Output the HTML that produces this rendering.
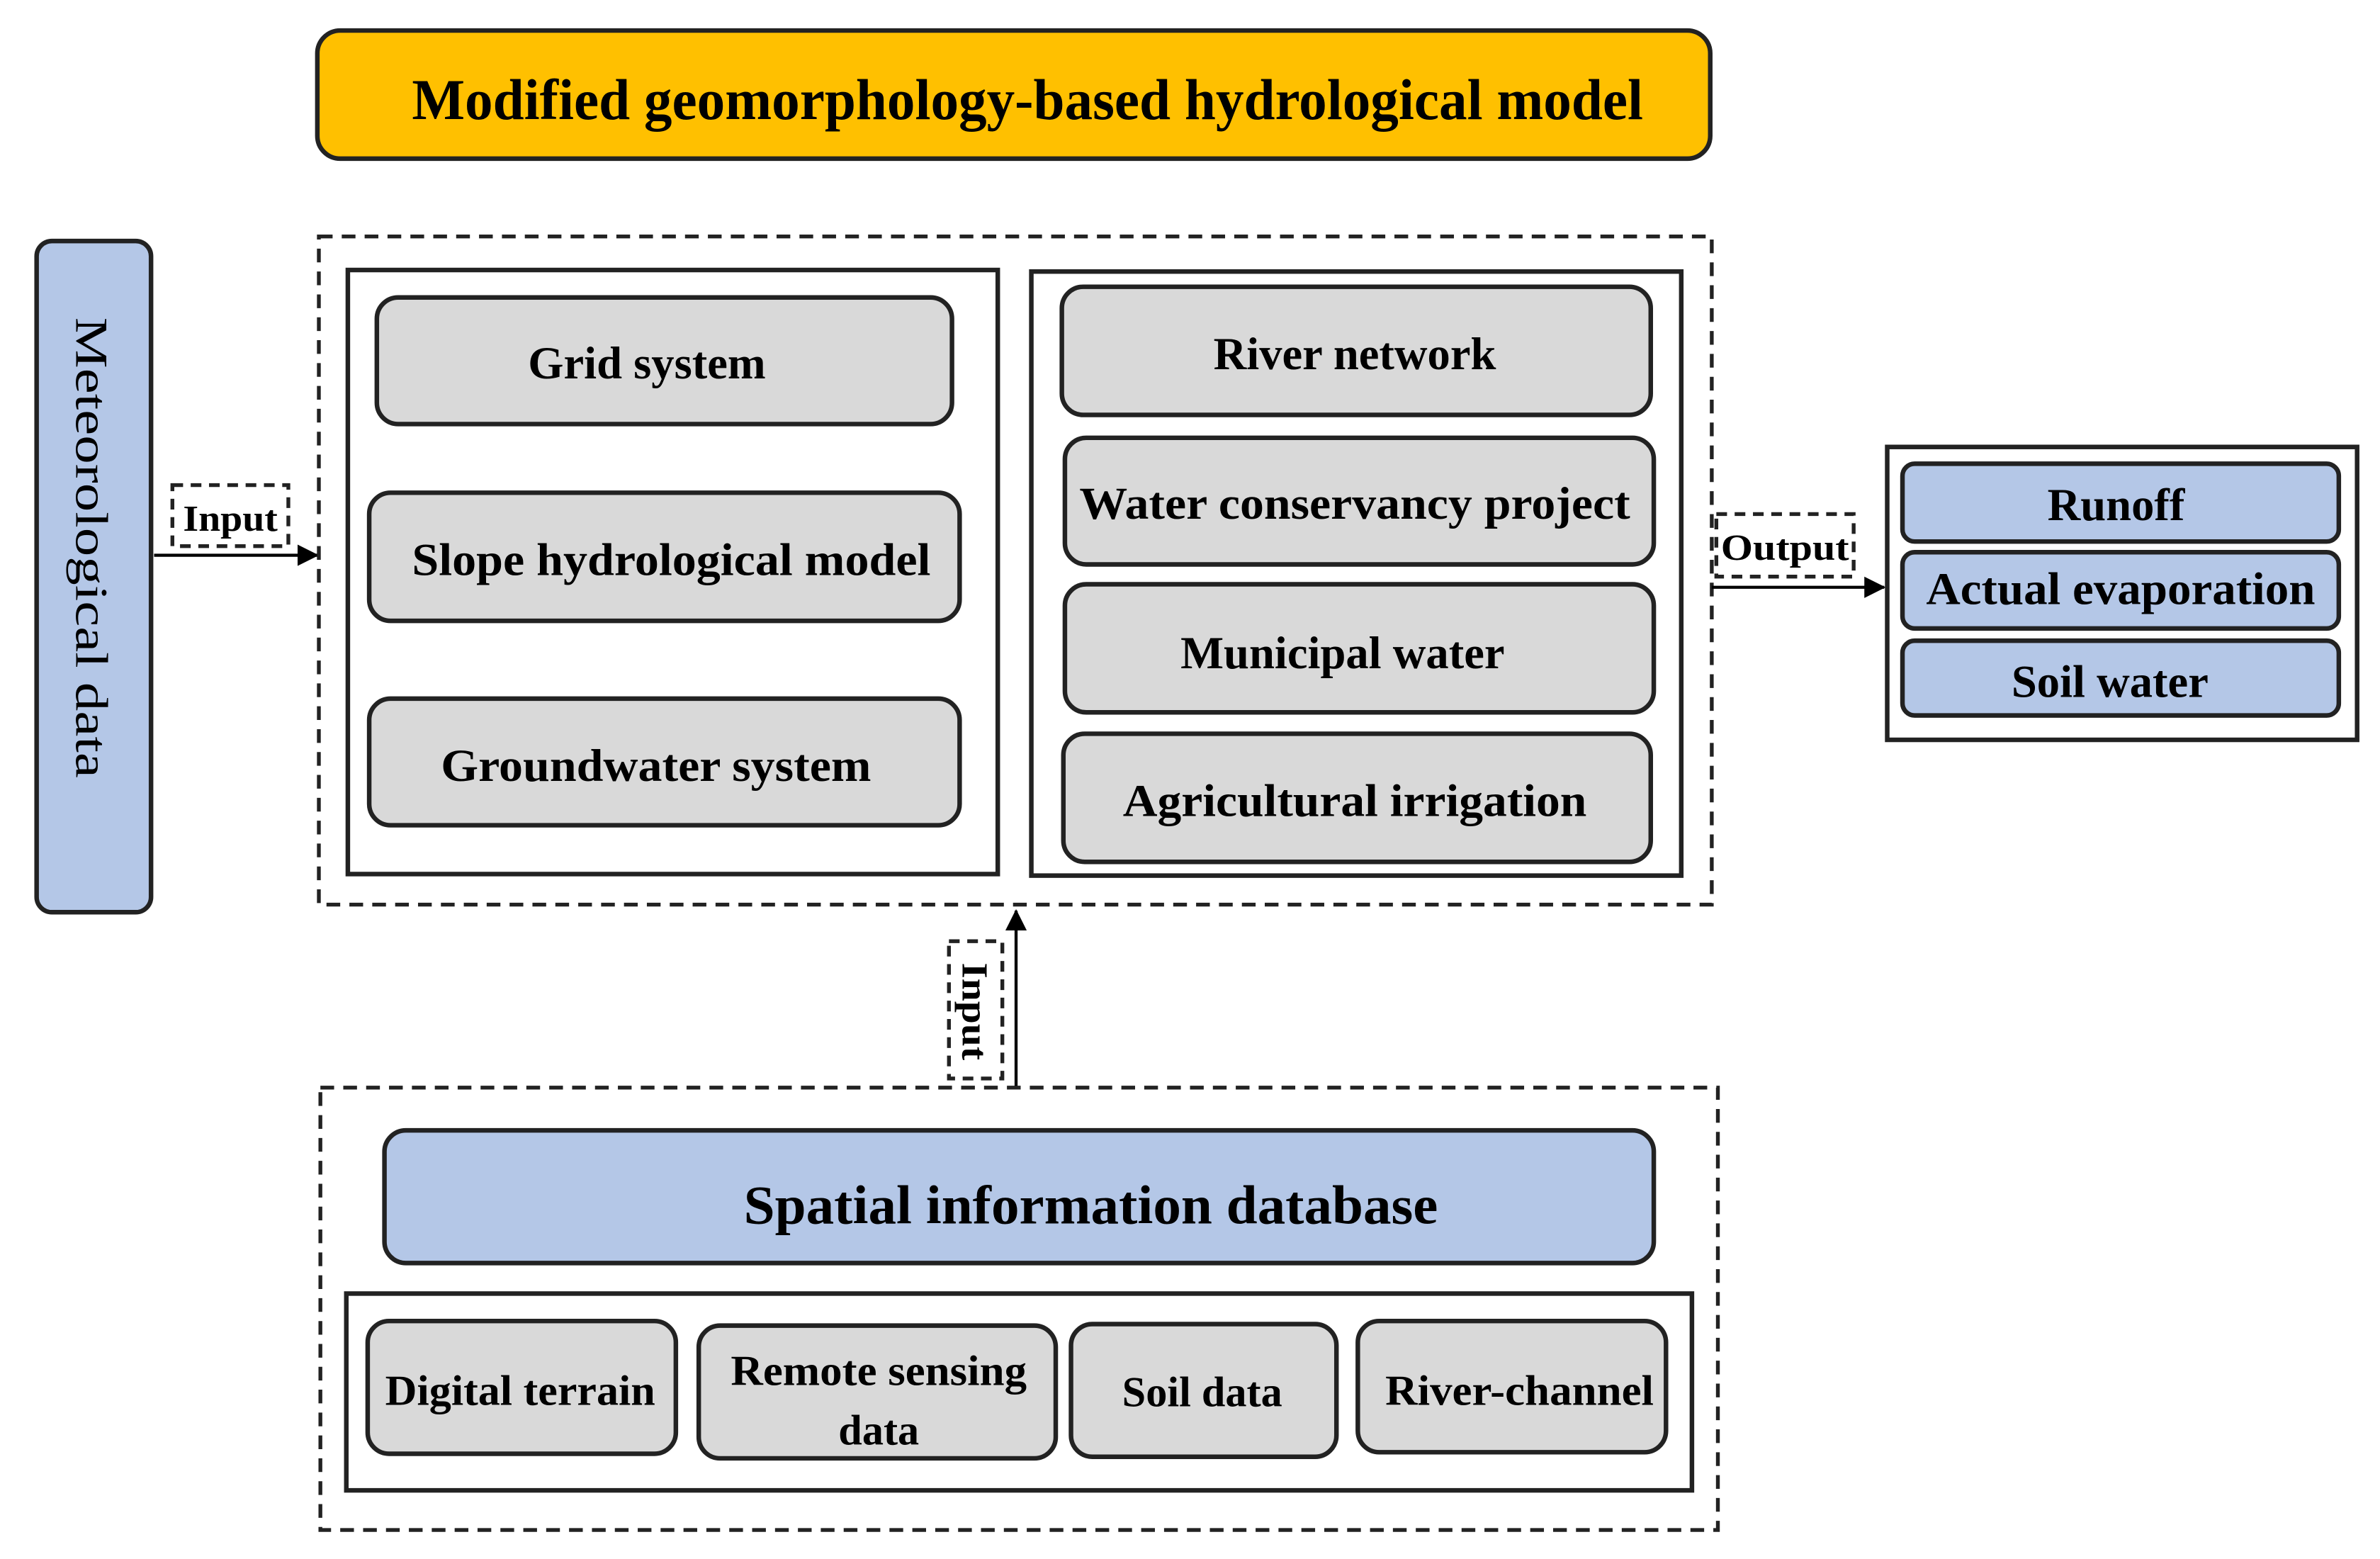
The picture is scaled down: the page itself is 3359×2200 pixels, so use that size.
<!DOCTYPE html>
<html><head><meta charset="utf-8"><style>html,body{margin:0;padding:0;background:#fff}svg{display:block}</style></head>
<body>
<svg width="3359" height="2200" viewBox="0 0 1560 1022" preserveAspectRatio="none" xmlns="http://www.w3.org/2000/svg">
<defs>
<marker id="ah" markerWidth="14" markerHeight="14" refX="13" refY="7" orient="auto" markerUnits="userSpaceOnUse">
<path d="M0,0 L14,7 L0,14 z" fill="#000"/></marker>
</defs>
<g font-family="'Liberation Serif', serif" font-weight="bold" fill="#000">
<rect x="208" y="20" width="913" height="84" rx="15" fill="#FFC000" stroke="#222" stroke-width="3"/>
<text x="270" y="78" font-size="38" textLength="807" lengthAdjust="spacingAndGlyphs">Modified geomorphology-based hydrological model</text>

<rect x="24" y="158" width="75" height="440" rx="10" fill="#B4C7E7" stroke="#222" stroke-width="3"/>
<text transform="translate(50,208) rotate(90)" font-size="30" font-weight="normal" textLength="302" lengthAdjust="spacingAndGlyphs">Meteorological data</text>

<rect x="113" y="318" width="76" height="40" fill="none" stroke="#222" stroke-width="2.5" stroke-dasharray="7,5"/>
<text x="120" y="348" font-size="24" textLength="62" lengthAdjust="spacingAndGlyphs">Input</text>
<line x1="101" y1="364" x2="208" y2="364" stroke="#000" stroke-width="2" marker-end="url(#ah)"/>

<rect x="209" y="155" width="913" height="438" fill="none" stroke="#222" stroke-width="2.5" stroke-dasharray="9,6"/>
<rect x="228" y="177" width="426" height="396" fill="none" stroke="#222" stroke-width="3"/>
<rect x="676" y="178" width="426" height="396" fill="none" stroke="#222" stroke-width="3"/>

<g fill="#D9D9D9" stroke="#222" stroke-width="3">
<rect x="247" y="195" width="377" height="83" rx="14"/>
<rect x="242" y="323" width="387" height="84" rx="14"/>
<rect x="242" y="458" width="387" height="83" rx="14"/>
<rect x="696" y="188" width="386" height="84" rx="14"/>
<rect x="698" y="287" width="386" height="83" rx="14"/>
<rect x="698" y="383" width="386" height="84" rx="14"/>
<rect x="697" y="481" width="385" height="84" rx="14"/>
</g>
<g font-size="30" text-anchor="middle">
<text x="424" y="248">Grid system</text>
<text x="440" y="377" textLength="340" lengthAdjust="spacingAndGlyphs">Slope hydrological model</text>
<text x="430" y="512" textLength="282" lengthAdjust="spacingAndGlyphs">Groundwater system</text>
<text x="888" y="242">River network</text>
<text x="888" y="340" textLength="361" lengthAdjust="spacingAndGlyphs">Water conservancy project</text>
<text x="880" y="438">Municipal water</text>
<text x="888" y="535" textLength="304" lengthAdjust="spacingAndGlyphs">Agricultural irrigation</text>
</g>

<rect x="1125" y="337" width="90" height="41" fill="none" stroke="#222" stroke-width="2.5" stroke-dasharray="7,5"/>
<text x="1128" y="367" font-size="24" textLength="84" lengthAdjust="spacingAndGlyphs">Output</text>
<line x1="1122" y1="385" x2="1235" y2="385" stroke="#000" stroke-width="2" marker-end="url(#ah)"/>
<rect x="1237" y="293" width="308" height="192" fill="#fff" stroke="#222" stroke-width="3"/>
<g fill="#B4C7E7" stroke="#222" stroke-width="3">
<rect x="1247" y="304" width="286" height="51" rx="8"/>
<rect x="1247" y="362" width="286" height="50" rx="8"/>
<rect x="1247" y="420" width="286" height="49" rx="8"/>
</g>
<g font-size="30" text-anchor="middle">
<text x="1387" y="341">Runoff</text>
<text x="1390" y="396" textLength="255" lengthAdjust="spacingAndGlyphs">Actual evaporation</text>
<text x="1383" y="457">Soil water</text>
</g>

<line x1="666" y1="712" x2="666" y2="597" stroke="#000" stroke-width="2" marker-end="url(#ah)"/>
<rect x="622" y="617" width="35" height="90" fill="none" stroke="#222" stroke-width="2.5" stroke-dasharray="7,5"/>
<text transform="translate(631,631) rotate(90)" font-size="24" textLength="64" lengthAdjust="spacingAndGlyphs">Input</text>

<rect x="210" y="713" width="916" height="290" fill="none" stroke="#222" stroke-width="2.5" stroke-dasharray="9,6"/>
<rect x="252" y="741" width="832" height="87" rx="14" fill="#B4C7E7" stroke="#222" stroke-width="3"/>
<text x="715" y="802" font-size="36" text-anchor="middle" textLength="455" lengthAdjust="spacingAndGlyphs">Spatial information database</text>
<rect x="227" y="848" width="882" height="129" fill="none" stroke="#222" stroke-width="3"/>
<g fill="#D9D9D9" stroke="#222" stroke-width="3">
<rect x="241" y="866" width="202" height="87" rx="14"/>
<rect x="458" y="869" width="234" height="87" rx="14"/>
<rect x="702" y="868" width="174" height="87" rx="14"/>
<rect x="890" y="866" width="202" height="86" rx="14"/>
</g>
<g font-size="28" text-anchor="middle">
<text x="341" y="921" textLength="177" lengthAdjust="spacingAndGlyphs">Digital terrain</text>
<text x="576" y="908" textLength="194" lengthAdjust="spacingAndGlyphs">Remote sensing</text>
<text x="576" y="947">data</text>
<text x="788" y="922">Soil data</text>
<text x="996" y="921" textLength="176" lengthAdjust="spacingAndGlyphs">River-channel</text>
</g>
</g>
</svg>
</body></html>
